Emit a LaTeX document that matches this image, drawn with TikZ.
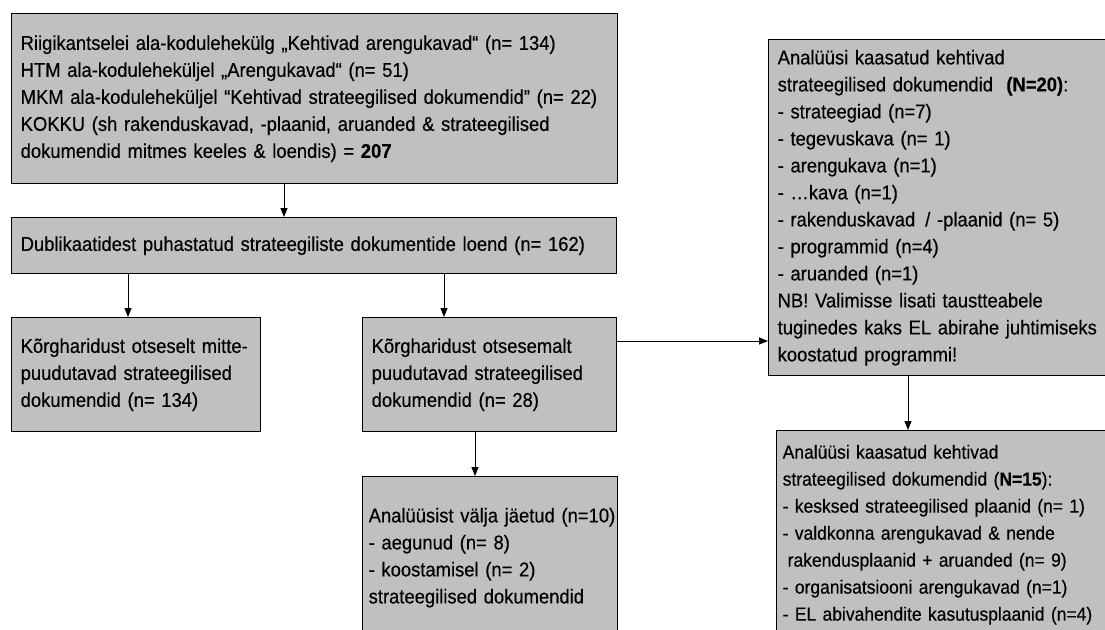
\documentclass[tikz,border=0pt]{standalone}
\usepackage{fontspec}
\setmainfont[FakeStretch=0.92,FakeBold=0.35]{Liberation Sans}
\usetikzlibrary{arrows.meta}
\definecolor{boxgrey}{HTML}{C0C0C0}
\tikzset{
  flowbox/.style={draw=black, line width=1.4pt, fill=boxgrey, inner xsep=9pt, inner ysep=0pt,
    align=left, anchor=north west, font=\fontsize{20}{27}\selectfont},
  arr/.style={line width=0.9pt, -{Triangle[length=9pt,width=7pt]}}
}
\begin{document}
\begin{tikzpicture}[x=1pt,y=-1pt]
\useasboundingbox (0,0) rectangle (1105,629);
\clip (0,0) rectangle (1105,629);
\node[flowbox, text width=588pt, minimum height=170pt] (b1) at (11,13) {Riigikantselei ala-kodulehekülg „Kehtivad arengukavad“ (n= 134)\\
HTM ala-kodulehekül\-jel „Arengukavad“ (n= 51)\\
MKM ala-kodulehekül\-jel “Kehtivad strateegilised dokumendid” (n= 22)\\
KOKKU (sh rakenduskavad, -plaanid, aruanded \& strateegilised\\
dokumendid mitmes keeles \& loendis) = \textbf{207}};
\node[flowbox, text width=587pt, minimum height=56pt] (b2) at (11,217) {Dublikaatidest puhastatud strateegiliste dokumentide loend (n= 162)};
\node[flowbox, text width=231pt, minimum height=114pt] (b3) at (11,317) {Kõrgharidust otseselt mitte-\\puudutavad strateegilised\\dokumendid (n= 134)};
\node[flowbox, text width=236pt, minimum height=114pt] (b4) at (362,317) {Kõrgharidust otsesemalt\\puudutavad strateegilised\\dokumendid (n= 28)};
\node[flowbox, inner xsep=6pt, text width=243pt, minimum height=162pt] (b5) at (362,476) {\mbox{Analüüsist välja jäetud (n=10)}\\- aegunud (n= 8)\\- koostamisel (n= 2)\\strateegilised dokumendid};
\node[flowbox, text width=342pt, minimum height=336pt] (b6) at (768,39) {Analüüsi kaasatud kehtivad\\
strateegilised dokumendid \ \textbf{(N=20)}:\\
- strateegiad (n=7)\\
- tegevuskava (n= 1)\\
- arengukava (n=1)\\
- \ldots kava (n=1)\\
- rakenduskavad \,/ -plaanid (n= 5)\\
- programmid (n=4)\\
- aruanded (n=1)\\
NB! Valimisse lisati taustteabele\\
tuginedes kaks EL abirahe juhtimiseks\\
koostatud programmi!};
\node[flowbox, inner xsep=6pt, text width=338pt, minimum height=208pt, font=\fontsize{19}{27}\selectfont] (b7) at (776,430) {Analüüsi kaasatud kehtivad\\
strateegilised dokumendid (\textbf{N=15}):\\
- kesksed strateegilised plaanid (n= 1)\\
- valdkonna arengukavad \& nende\\
\hspace*{5pt}rakendusplaanid + aruanded (n= 9)\\
- organisatsiooni arengukavad (n=1)\\
\mbox{- EL abivahendite kasutusplaanid (n=4)}};
\coordinate (xa) at (284,0);
\coordinate (xb) at (128,0);
\coordinate (xc) at (444,0);
\coordinate (xd) at (475,0);
\coordinate (xe) at (908,0);
\coordinate (ya) at (0,341);
\draw[arr] (xa |- b1.south) -- (xa |- b2.north);
\draw[arr] (xb |- b2.south) -- (xb |- b3.north);
\draw[arr] (xc |- b2.south) -- (xc |- b4.north);
\draw[arr] (xd |- b4.south) -- (xd |- b5.north);
\draw[arr] (b4.east |- ya) -- (b6.west |- ya);
\draw[arr] (xe |- b6.south) -- (xe |- b7.north);
\end{tikzpicture}
\end{document}
